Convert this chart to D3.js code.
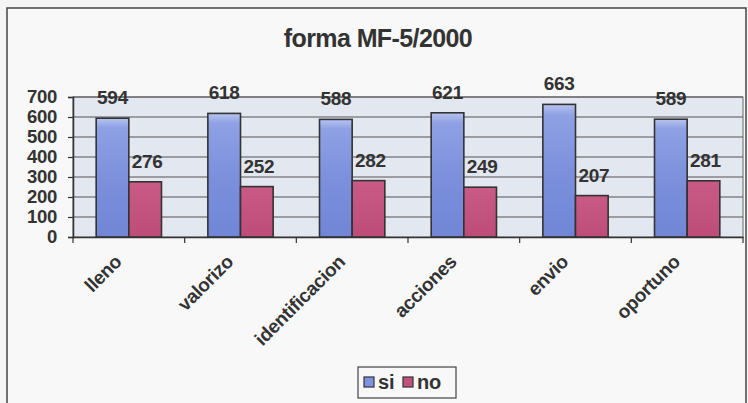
<!DOCTYPE html>
<html><head><meta charset="utf-8">
<script src="https://cdn.jsdelivr.net/npm/d3@7"></script>
<style>
html,body{margin:0;padding:0;background:#f5f5f5;}
svg text{font-family:"Liberation Sans",Arial,sans-serif;font-weight:bold;fill:#333;}
</style></head>
<body>
<svg id="c" width="748" height="403"></svg>
<script>
const categories = ["lleno","valorizo","identificacion","acciones","envio","oportuno"];
const seriesNames = ["si","no"];
const siValues = [594,618,588,621,663,589];
const noValues = [276,252,282,249,207,281];
const yTicks = [0,100,200,300,400,500,600,700];
const title = "forma MF-5/2000";

const svg = d3.select("#c");
const m = {left:73, right:743, top:97, bottom:237};

// outer chart frame
svg.append("rect").attr("x",7).attr("y",8).attr("width",739).attr("height",420)
  .attr("fill","#f8f8f8").attr("stroke","#444").attr("stroke-width",1.5);

const defs = svg.append("defs");
const gBlue = defs.append("linearGradient").attr("id","gb").attr("x1",0).attr("y1",0).attr("x2",0).attr("y2",1);
gBlue.append("stop").attr("offset","0%").attr("stop-color","#b7c4f0");
gBlue.append("stop").attr("offset","8%").attr("stop-color","#8fa1e4");
gBlue.append("stop").attr("offset","50%").attr("stop-color","#7c90dc");
gBlue.append("stop").attr("offset","100%").attr("stop-color","#7086d6");
const gPink = defs.append("linearGradient").attr("id","gp").attr("x1",0).attr("y1",0).attr("x2",0).attr("y2",1);
gPink.append("stop").attr("offset","0%").attr("stop-color","#c95a86");
gPink.append("stop").attr("offset","100%").attr("stop-color","#bd4d78");

const x = d3.scaleBand().domain(categories).range([m.left,m.right]).paddingInner(0).paddingOuter(0);
const xs = d3.scaleBand().domain(seriesNames).range([0,x.bandwidth()]).paddingInner(0).paddingOuter(0.71);
const y = d3.scaleLinear().domain([0,700]).range([m.bottom,m.top]);

// plot area
svg.append("rect").attr("x",m.left).attr("y",m.top).attr("width",m.right-m.left).attr("height",m.bottom-m.top)
  .attr("fill","#e2e7f0").attr("stroke","#666").attr("stroke-width",1);

// gridlines
svg.append("g").selectAll("line").data(yTicks.slice(1)).join("line")
  .attr("x1",m.left).attr("x2",m.right).attr("y1",d=>y(d)).attr("y2",d=>y(d))
  .attr("stroke","#555").attr("stroke-width",1.2);

// y axis
const ya = svg.append("g").attr("transform",`translate(${m.left},0)`)
  .call(d3.axisLeft(y).tickValues(yTicks).tickSize(5).tickPadding(11));
ya.select(".domain").attr("stroke","#333").attr("stroke-width",1.5);
ya.selectAll(".tick line").attr("stroke","#333").attr("stroke-width",1.2);
ya.selectAll("text").attr("font-size",18.5).style("letter-spacing","-0.3px").attr("fill","#333")
  .attr("font-family","Liberation Sans, Arial, sans-serif").attr("font-weight","bold");

// x axis
const xa = svg.append("g").attr("transform",`translate(0,${m.bottom})`)
  .call(d3.axisBottom(x).tickSize(0).tickFormat(""));
xa.select(".domain").attr("stroke","#333").attr("stroke-width",1.5);
const bounds = d3.range(categories.length+1).map(i=>m.left+i*x.bandwidth());
svg.append("g").selectAll("line").data(bounds).join("line")
  .attr("x1",d=>d).attr("x2",d=>d).attr("y1",m.bottom).attr("y2",m.bottom+6)
  .attr("stroke","#333").attr("stroke-width",1.2);

// category labels
svg.append("g").selectAll("text").data(categories).join("text")
  .attr("transform",d=>`translate(${x(d)+x.bandwidth()/2-6},${m.bottom+26}) rotate(-45)`)
  .attr("text-anchor","end").attr("font-size",19).style("letter-spacing","-0.3px").text(d=>d);

// bars
const data = categories.map((c,i)=>({c, vals:[{s:"si",v:siValues[i]},{s:"no",v:noValues[i]}]}));
const grp = svg.append("g").selectAll("g").data(data).join("g").attr("transform",d=>`translate(${x(d.c)},0)`);
grp.selectAll("rect").data(d=>d.vals).join("rect")
  .attr("x",d=>xs(d.s)).attr("width",xs.bandwidth())
  .attr("y",d=>y(d.v)).attr("height",d=>y(0)-y(d.v))
  .attr("fill",d=>d.s==="si"?"url(#gb)":"url(#gp)")
  .attr("stroke","#333").attr("stroke-width",1.6);
grp.selectAll("text").data(d=>d.vals).join("text")
  .attr("x",d=>xs(d.s)+xs.bandwidth()/2+(d.s==="no"?2:0)).attr("y",d=>y(d.v)-14)
  .attr("text-anchor","middle").attr("font-size",19).style("letter-spacing","-0.3px").text(d=>d.v);

// title
svg.append("text").attr("x",378).attr("y",47).attr("text-anchor","middle")
  .attr("font-size",25).style("letter-spacing","-0.6px").text(title);

// legend
const lg = svg.append("g");
lg.append("rect").attr("x",358).attr("y",367).attr("width",98).attr("height",31)
  .attr("fill","#f8f8f8").attr("stroke","#444").attr("stroke-width",1.2);
const colors = {si:"#7f93de", no:"#c4527f"};
const lx = [364, 403];
seriesNames.forEach((s,i)=>{
  lg.append("rect").attr("x",lx[i]).attr("y",377).attr("width",10).attr("height",10)
    .attr("fill",colors[s]).attr("stroke","#333").attr("stroke-width",1.2);
  lg.append("text").attr("x",lx[i]+14).attr("y",389).attr("font-size",20).style("letter-spacing","-0.2px").text(s);
});
</script>
</body></html>
